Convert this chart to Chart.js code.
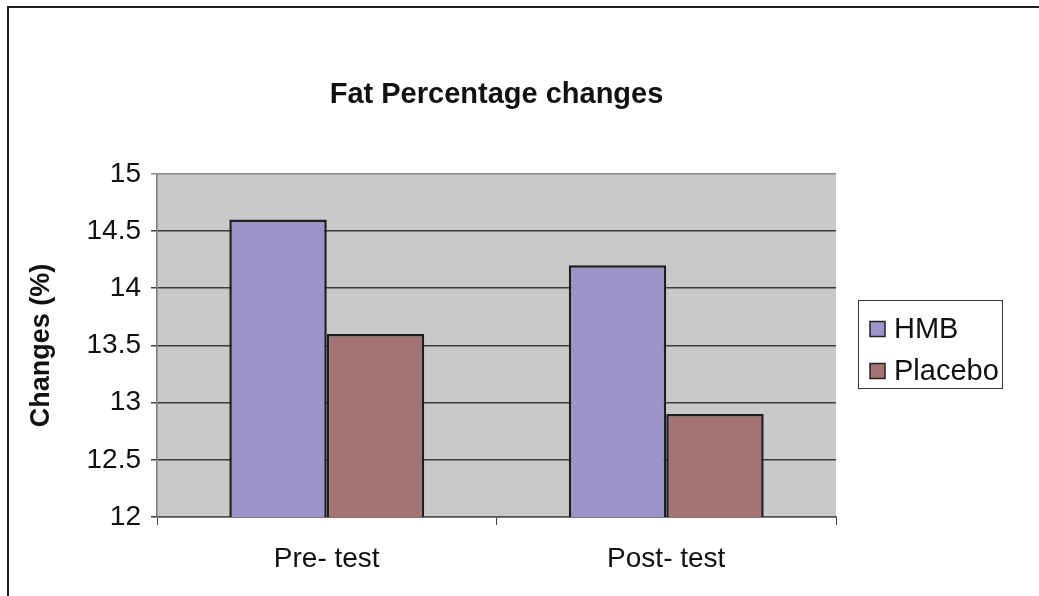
<!DOCTYPE html>
<html>
<head>
<meta charset="utf-8">
<script src="https://cdn.jsdelivr.net/npm/chart.js@4/dist/chart.umd.min.js"></script>
<style>
  html, body { margin: 0; padding: 0; background: #ffffff; }
  #wrap { width: 1039px; height: 596px; position: relative; }
</style>
</head>
<body>
<div id="wrap"><canvas id="c" width="1039" height="596"></canvas></div>
<script>
const chartTitle = 'Fat Percentage changes';
const yAxisTitle = 'Changes (%)';
const categories = ['Pre- test', 'Post- test'];
const seriesNames = ['HMB', 'Placebo'];
const hmbValues = [14.6, 14.2];
const placeboValues = [13.6, 12.9];
const yMin = 12;
const yMax = 15;
const yStep = 0.5;
const seriesColors = ['#9b95c9', '#a47474'];

const FONT = '"Liberation Sans", Arial, sans-serif';

const framePlugin = {
  id: 'frame',
  beforeDraw(chart) {
    const {ctx, chartArea: a} = chart;
    ctx.save();
    ctx.fillStyle = '#ffffff';
    ctx.fillRect(0, 0, chart.width, chart.height);
    ctx.fillStyle = '#c9c9cb';
    ctx.fillRect(a.left, a.top, a.right - a.left, a.bottom - a.top);
    ctx.restore();
  },
  afterDraw(chart) {
    const {ctx} = chart;
    ctx.save();
    // outer border (top and left visible)
    ctx.strokeStyle = '#222222';
    ctx.lineWidth = 2;
    ctx.beginPath();
    ctx.moveTo(8, chart.height + 5);
    ctx.lineTo(8, 7);
    ctx.lineTo(chart.width + 5, 7);
    ctx.stroke();

    // legend
    const bx = 858.5, by = 300.5, bw = 144, bh = 88;
    ctx.strokeStyle = '#333333';
    ctx.lineWidth = 1;
    ctx.strokeRect(bx, by, bw, bh);
    chart.data.datasets.forEach((ds, i) => {
      const cy = 329 + i * 42;
      ctx.fillStyle = ds.backgroundColor;
      ctx.fillRect(870, cy - 7.5, 15, 15);
      ctx.strokeStyle = '#222222';
      ctx.lineWidth = 1.5;
      ctx.strokeRect(870, cy - 7.5, 15, 15);
      ctx.fillStyle = '#111111';
      ctx.font = '29px ' + FONT;
      ctx.textBaseline = 'middle';
      ctx.textAlign = 'left';
      ctx.fillText(ds.label, 894, cy + 1);
    });
    ctx.restore();
  }
};

new Chart(document.getElementById('c'), {
  type: 'bar',
  data: {
    labels: categories,
    datasets: [
      { label: seriesNames[0], data: hmbValues, backgroundColor: seriesColors[0],
        borderColor: '#1e1e1e', borderWidth: 2.5, borderSkipped: 'start' },
      { label: seriesNames[1], data: placeboValues, backgroundColor: seriesColors[1],
        borderColor: '#1e1e1e', borderWidth: 2.5, borderSkipped: 'start' }
    ]
  },
  options: {
    responsive: false,
    animation: false,
    devicePixelRatio: 1,
    layout: { padding: { left: 0, top: 0, right: 203, bottom: 0 } },
    datasets: { bar: { categoryPercentage: 0.574, barPercentage: 1.0 } },
    plugins: {
      legend: { display: false },
      tooltip: { enabled: false },
      title: {
        display: true,
        text: chartTitle,
        fullSize: false,
        color: '#111111',
        font: { family: FONT, size: 29, weight: 'bold' },
        padding: { top: 78, bottom: 61 }
      }
    },
    scales: {
      x: {
        grid: { offset: true, drawOnChartArea: false, drawTicks: true, tickLength: 8, color: '#444444', lineWidth: 1 },
        border: { display: true, color: '#555555', width: 1.5 },
        ticks: { color: '#111111', font: { family: FONT, size: 28 }, padding: 17 },
        afterFit(scale) { scale.height = 79; }
      },
      y: {
        min: yMin,
        max: yMax,
        ticks: {
          stepSize: yStep,
          color: '#111111',
          font: { family: FONT, size: 28 },
          padding: 10,
          callback: (v) => String(v)
        },
        grid: {
          color: (ctx) => (ctx.tick && ctx.tick.value === yMax ? '#8a8a8a' : '#3c3c3c'),
          lineWidth: 1.5,
          tickLength: 6
        },
        border: { display: true, color: '#7a7a7a', width: 1.5 },
        title: {
          display: true,
          text: yAxisTitle,
          color: '#111111',
          font: { family: FONT, size: 27, weight: 'bold' },
          padding: { top: 25, bottom: 0 }
        },
        afterFit(scale) { scale.width = 157; }
      }
    }
  },
  plugins: [framePlugin]
});
</script>
</body>
</html>
